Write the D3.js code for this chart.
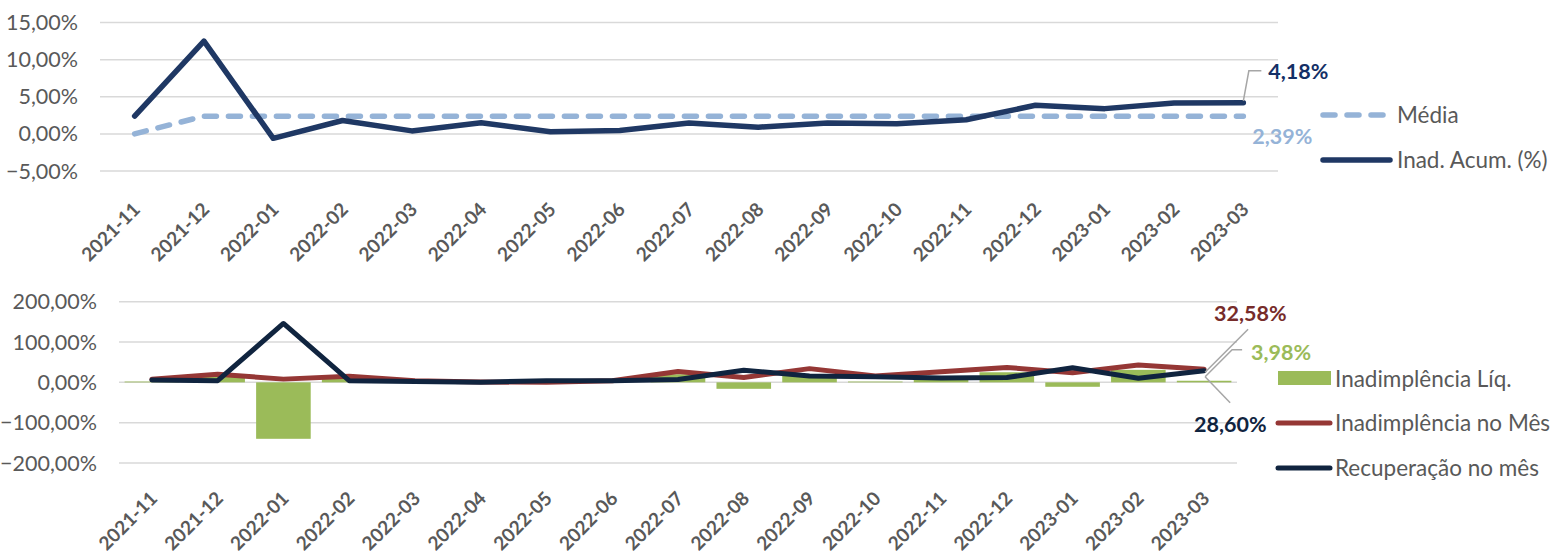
<!DOCTYPE html>
<html>
<head>
<meta charset="utf-8">
<script src="https://cdn.jsdelivr.net/npm/d3@7"></script>
<style>
  html, body { margin: 0; padding: 0; background: #fff; }
  svg { display: block; font-family: Lato, "Open Sans", sans-serif; }
</style>
</head>
<body>
<svg id="chart" width="1556" height="554"></svg>
<script>
// ---------- DATA ----------
const months = ["2021-11","2021-12","2022-01","2022-02","2022-03","2022-04","2022-05","2022-06",
  "2022-07","2022-08","2022-09","2022-10","2022-11","2022-12","2023-01","2023-02","2023-03"];

// Top chart (fractions)
const inadAcum = [0.024, 0.125, -0.006, 0.018, 0.004, 0.015, 0.003, 0.0045, 0.0145, 0.009, 0.0145, 0.0135, 0.019, 0.0385, 0.034, 0.0415, 0.0418];
const media    = [0.0, 0.0239, 0.0239, 0.0239, 0.0239, 0.0239, 0.0239, 0.0239, 0.0239, 0.0239, 0.0239, 0.0239, 0.0239, 0.0239, 0.0239, 0.0239, 0.0239];
const topTicks = [-0.05, 0, 0.05, 0.10, 0.15];

// Bottom chart (fractions)
const inadLiq   = [0.02, 0.15, -1.40, 0.11, 0.02, 0.0, -0.03, 0.0, 0.20, -0.16, 0.18, 0.02, 0.15, 0.25, -0.11, 0.31, 0.0398];
const inadMes   = [0.075, 0.20, 0.08, 0.15, 0.04, 0.01, 0.0, 0.04, 0.27, 0.12, 0.34, 0.16, 0.26, 0.37, 0.24, 0.43, 0.3258];
const recupMes  = [0.057, 0.04, 1.46, 0.04, 0.02, 0.005, 0.04, 0.04, 0.07, 0.30, 0.16, 0.14, 0.11, 0.12, 0.36, 0.10, 0.2860];
const botTicks = [-2, -1, 0, 1, 2];

const legendTop = ["Média", "Inad. Acum. (%)"];
const legendBot = ["Inadimplência Líq.", "Inadimplência no Mês", "Recuperação no mês"];

// ---------- STYLE ----------
const C = {
  grid: "#D9D9D9", text: "#595959",
  navyTop: "#1F3864", media: "#95B3D7", labelTop: "#142F66",
  green: "#9BBB59", red: "#953735", navyBot: "#10243F",
  redLabel: "#772C2A", leader: "#A6A6A6"
};
const loc = d3.formatLocale({decimal: ",", thousands: ".", grouping: [3], currency: ["R$", ""], percent: "%"});
const pct = loc.format(".2%");

const svg = d3.select("#chart");
const AX = 21.5, LEG = 22.5, XL = 19, DL = 21.5;

// ---------- TOP CHART ----------
const xT = d3.scaleBand().domain(months).range([100, 1278]);
const yT = d3.scaleLinear().domain([-0.05, 0.15]).range([171, 22.5]);
const cx = (s, m) => s(m) + s.bandwidth() / 2;

const gT = svg.append("g");
gT.append("g").selectAll("line").data(topTicks).join("line")
  .attr("x1", 100).attr("x2", 1278)
  .attr("y1", d => yT(d)).attr("y2", d => yT(d))
  .attr("stroke", C.grid).attr("stroke-width", 1.5);

gT.append("g").selectAll("text").data(topTicks).join("text")
  .attr("x", 78).attr("y", d => yT(d)).attr("dy", "0.35em")
  .attr("text-anchor", "end").attr("fill", C.text).attr("font-size", AX)
  .text(d => pct(d));

gT.append("g").selectAll("text").data(months).join("text")
  .attr("transform", d => `translate(${cx(xT, d) + 2},${206}) rotate(-45)`)
  .attr("text-anchor", "end").attr("dy", "0.35em")
  .attr("fill", C.text).attr("font-size", XL).attr("font-weight", "bold")
  .text(d => d);

const lineT = d3.line().x((d, i) => cx(xT, months[i])).y(d => yT(d));
gT.append("path").datum(media).attr("d", lineT)
  .attr("fill", "none").attr("stroke", C.media).attr("stroke-width", 5.5)
  .attr("stroke-dasharray", "12,12").attr("stroke-linecap", "round");
gT.append("path").datum(inadAcum).attr("d", lineT)
  .attr("fill", "none").attr("stroke", C.navyTop).attr("stroke-width", 5.5)
  .attr("stroke-linejoin", "round").attr("stroke-linecap", "round");

// data labels top
const lastI = months.length - 1;
const lxT = cx(xT, months[lastI]);
const lyA = yT(inadAcum[lastI]);
gT.append("path").attr("d", `M${lxT},${lyA - 2}L${lxT + 5.5},${lyA - 32}L${lxT + 18},${lyA - 32}`)
  .attr("fill", "none").attr("stroke", C.leader).attr("stroke-width", 1.5);
gT.append("text").attr("x", lxT + 25).attr("y", lyA - 31).attr("dy", "0.35em")
  .attr("fill", C.labelTop).attr("font-weight", "bold").attr("font-size", DL)
  .text(pct(inadAcum[lastI]));
gT.append("text").attr("x", lxT + 9).attr("y", yT(media[lastI]) + 20).attr("dy", "0.35em")
  .attr("fill", C.media).attr("font-weight", "bold").attr("font-size", DL)
  .text(pct(media[lastI]));

// legend top
const lgT = gT.append("g");
lgT.append("line").attr("x1", 1323).attr("x2", 1383).attr("y1", 115).attr("y2", 115)
  .attr("stroke", C.media).attr("stroke-width", 5.5).attr("stroke-dasharray", "12,12").attr("stroke-linecap", "round");
lgT.append("line").attr("x1", 1323).attr("x2", 1390).attr("y1", 160).attr("y2", 160)
  .attr("stroke", C.navyTop).attr("stroke-width", 5.5).attr("stroke-linecap", "round");
lgT.selectAll("text").data(legendTop).join("text")
  .attr("x", 1397).attr("y", (d, i) => 115 + i * 45).attr("dy", "0.35em")
  .attr("fill", C.text).attr("font-size", LEG).text(d => d);

// ---------- BOTTOM CHART ----------
const xB = d3.scaleBand().domain(months).range([119, 1237]).paddingInner(0.17).paddingOuter(0.085);
const xBp = d3.scaleBand().domain(months).range([119, 1237]);
const yB = d3.scaleLinear().domain([-2, 2]).range([463, 301.7]);

const gB = svg.append("g");
gB.append("g").selectAll("line").data(botTicks).join("line")
  .attr("x1", 119).attr("x2", 1237)
  .attr("y1", d => yB(d)).attr("y2", d => yB(d))
  .attr("stroke", C.grid).attr("stroke-width", 1.5);

gB.append("g").selectAll("text").data(botTicks).join("text")
  .attr("x", 97).attr("y", d => yB(d)).attr("dy", "0.35em")
  .attr("text-anchor", "end").attr("fill", C.text).attr("font-size", AX)
  .text(d => pct(d));

gB.append("g").selectAll("text").data(months).join("text")
  .attr("transform", d => `translate(${cx(xBp, d) + 2},${495}) rotate(-45)`)
  .attr("text-anchor", "end").attr("dy", "0.35em")
  .attr("fill", C.text).attr("font-size", XL).attr("font-weight", "bold")
  .text(d => d);

gB.append("g").selectAll("rect").data(inadLiq).join("rect")
  .attr("x", (d, i) => xB(months[i])).attr("width", xB.bandwidth())
  .attr("y", d => yB(Math.max(0, d))).attr("height", d => Math.abs(yB(d) - yB(0)))
  .attr("fill", C.green);

const lineB = d3.line().x((d, i) => cx(xBp, months[i])).y(d => yB(d));
gB.append("path").datum(inadMes).attr("d", lineB)
  .attr("fill", "none").attr("stroke", C.red).attr("stroke-width", 5)
  .attr("stroke-linejoin", "round").attr("stroke-linecap", "round");
gB.append("path").datum(recupMes).attr("d", lineB)
  .attr("fill", "none").attr("stroke", C.navyBot).attr("stroke-width", 5)
  .attr("stroke-linejoin", "round").attr("stroke-linecap", "round");

// data labels bottom
const lxB = cx(xBp, months[lastI]);
gB.append("path").attr("d", `M${lxB + 1},${yB(inadMes[lastI]) + 3}L${lxB + 44},${yB(inadMes[lastI]) - 40}`)
  .attr("fill", "none").attr("stroke", C.leader).attr("stroke-width", 1.5);
gB.append("path").attr("d", `M${lxB + 1},${yB(inadLiq[lastI]) - 4}L${lxB + 28},${yB(inadLiq[lastI]) - 31}L${lxB + 38},${yB(inadLiq[lastI]) - 31}`)
  .attr("fill", "none").attr("stroke", C.leader).attr("stroke-width", 1.5);
gB.append("path").attr("d", `M${lxB + 1},${yB(recupMes[lastI]) + 6}L${lxB + 26},${yB(recupMes[lastI]) + 32}`)
  .attr("fill", "none").attr("stroke", C.leader).attr("stroke-width", 1.5);

gB.append("text").attr("x", lxB + 10).attr("y", 313).attr("dy", "0.35em")
  .attr("fill", C.redLabel).attr("font-weight", "bold").attr("font-size", DL)
  .text(pct(inadMes[lastI]));
gB.append("text").attr("x", lxB + 47).attr("y", 352).attr("dy", "0.35em")
  .attr("fill", C.green).attr("font-weight", "bold").attr("font-size", DL)
  .text(pct(inadLiq[lastI]));
gB.append("text").attr("x", lxB - 10).attr("y", 424).attr("dy", "0.35em")
  .attr("fill", C.navyBot).attr("font-weight", "bold").attr("font-size", DL)
  .text(pct(recupMes[lastI]));

// legend bottom
const lgB = gB.append("g");
lgB.append("rect").attr("x", 1278).attr("y", 371).attr("width", 53).attr("height", 14).attr("fill", C.green);
lgB.append("line").attr("x1", 1278).attr("x2", 1330).attr("y1", 423).attr("y2", 423)
  .attr("stroke", C.red).attr("stroke-width", 5).attr("stroke-linecap", "round");
lgB.append("line").attr("x1", 1278).attr("x2", 1330).attr("y1", 468).attr("y2", 468)
  .attr("stroke", C.navyBot).attr("stroke-width", 5).attr("stroke-linecap", "round");
lgB.selectAll("text").data(legendBot).join("text")
  .attr("x", 1335).attr("y", (d, i) => 379 + i * 44.5).attr("dy", "0.35em")
  .attr("fill", C.text).attr("font-size", LEG).text(d => d);
</script>
</body>
</html>
